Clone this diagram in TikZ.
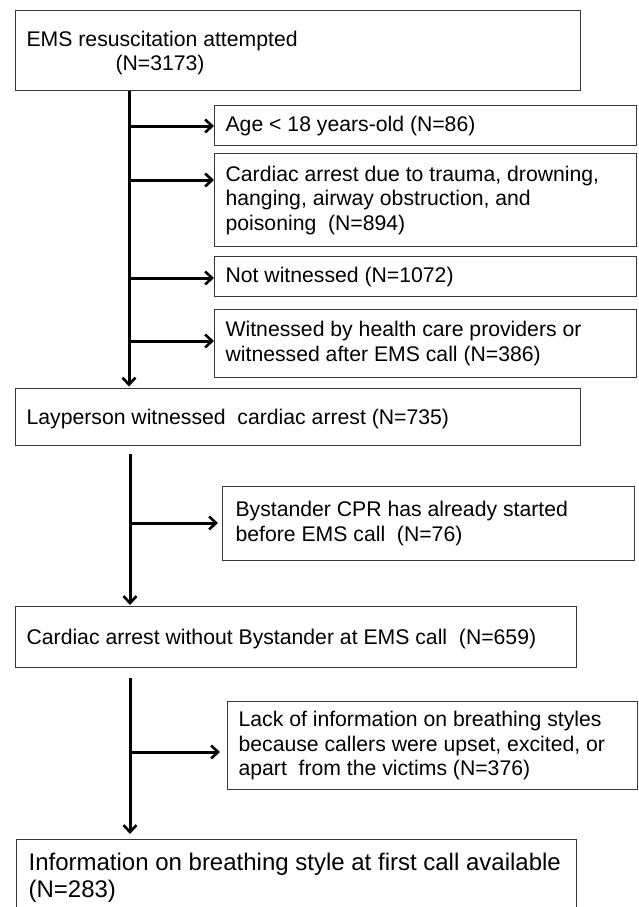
\documentclass[tikz,border=0pt]{standalone}
\usepackage{fontspec}
\setmainfont{Liberation Sans}
\usetikzlibrary{arrows.meta}
\begin{document}
\begin{tikzpicture}[x=1pt,y=-1pt,
  box/.style={draw=black!78,line width=1.2pt,anchor=north west,inner xsep=11pt,inner ysep=0pt,
    align=flush left,font=\fontsize{21.2}{24.5}\selectfont},
  bigbox/.style={box,font=\fontsize{24}{27}\selectfont},
  conn/.style={line width=3pt,-{Straight Barb[length=7pt,width=13pt,line width=2.6pt]}}]
\useasboundingbox (0,0) rectangle (638,907);
\fill[white] (0,0) rectangle (638,907);

% main boxes
\node[box,text width=543pt,minimum height=80pt] (top) at (15,10)
  {\rule{0pt}{20pt}EMS resuscitation attempted\\\hspace*{89pt}(N=3173)};
\node[box,text width=543pt,minimum height=57pt] (lay) at (15,388)
  {\rule{0pt}{19pt}Layperson witnessed\ \ cardiac arrest (N=735)};
\node[box,text width=539pt,minimum height=61pt] (nobys) at (15,606)
  {\rule{0pt}{19pt}Cardiac arrest without Bystander at EMS call\ \ (N=659)};
\node[bigbox,text width=536pt,minimum height=76pt,inner xsep=12pt] (final) at (16,839)
  {Information on breathing style at first call available\\(N=283)};

% exclusion boxes
\node[box,text width=400pt,minimum height=40pt] (age) at (214,105)
  {Age < 18 years-old (N=86)};
\node[box,text width=400pt,minimum height=93pt] (trauma) at (214,153)
  {Cardiac arrest due to trauma, drowning,\\hanging, airway obstruction, and\\poisoning\ \ (N=894)};
\node[box,text width=400pt,minimum height=40pt] (notwit) at (214,256)
  {Not witnessed (N=1072)};
\node[box,text width=400pt,minimum height=68pt] (wit) at (214,309)
  {Witnessed by health care providers or\\witnessed after EMS call (N=386)};
\node[box,text width=386pt,minimum height=74pt,inner xsep=13pt] (bys) at (222,486)
  {Bystander CPR has already started\\before EMS call\ \ (N=76)};
\node[box,text width=388pt,minimum height=88pt] (lack) at (227,701)
  {Lack of information on breathing styles\\because callers were upset, excited, or\\apart\ \ from the victims (N=376)};

% junction points
\coordinate (j1) at (129,126);
\coordinate (j2) at (129,180);
\coordinate (j3) at (129,278);
\coordinate (j4) at (129,341);
\coordinate (j5) at (130,523);
\coordinate (j6) at (130,752);

% trunks
\draw[conn] (top.south -| j1) -- ([yshift=1.5pt]lay.north -| j1);
\draw[conn,shorten <=8pt] (lay.south -| j5) -- ([yshift=1pt]nobys.north -| j5);
\draw[conn,shorten <=10pt,shorten >=5pt] (nobys.south -| j6) -- (final.north -| j6);

% branches
\draw[conn] ([xshift=-1.4pt]j1) -- (j1 -| age.west);
\draw[conn] ([xshift=-1.4pt]j2) -- (j2 -| trauma.west);
\draw[conn] ([xshift=-1.4pt]j3) -- (j3 -| notwit.west);
\draw[conn] ([xshift=-1.4pt]j4) -- (j4 -| wit.west);
\draw[conn,shorten >=4pt] ([xshift=-1.4pt]j5) -- (j5 -| bys.west);
\draw[conn,shorten >=7pt] ([xshift=-1.4pt]j6) -- (j6 -| lack.west);
\end{tikzpicture}
\end{document}
